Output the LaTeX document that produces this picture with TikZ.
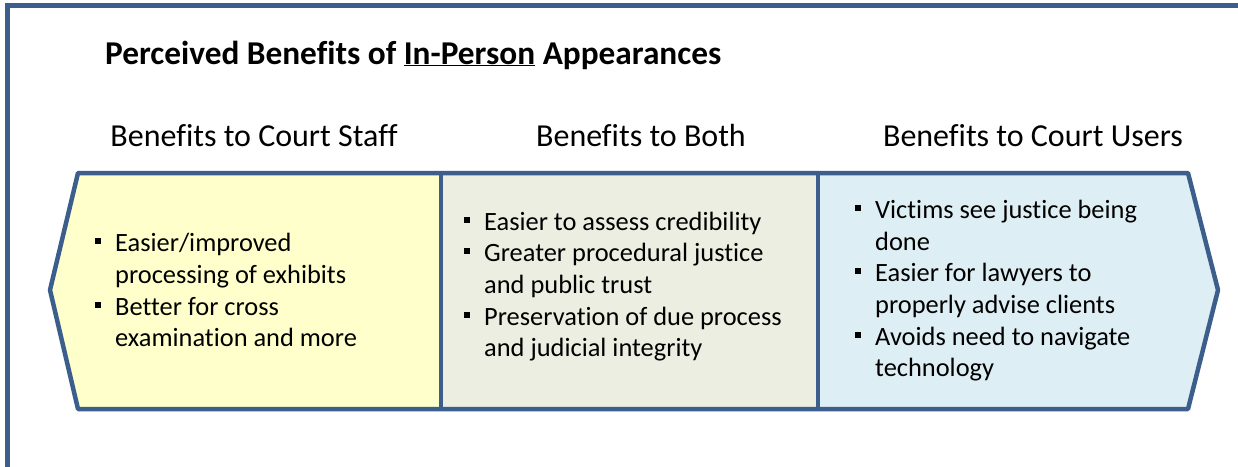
\documentclass[tikz,border=0pt]{standalone}
\usepackage{fontspec}
\setmainfont{Carlito}[Ligatures=NoCommon]
\definecolor{frameblue}{RGB}{59,94,140}
\definecolor{staffyellow}{RGB}{255,255,204}
\definecolor{bothgreen}{RGB}{235,238,224}
\definecolor{userblue}{RGB}{221,238,244}
\newcommand{\bitem}[1]{{\hangindent=20pt\hangafter=1\noindent\makebox[20pt][l]{\raisebox{7.5pt}{\rule{6pt}{6pt}}}#1\par}}
\newcommand{\blist}[1]{\vtop{\hsize=400pt\parskip=0pt\parindent=0pt\raggedright #1}}
\tikzset{
  panel/.style={draw=frameblue, line width=4.5pt, line join=round},
  header/.style={font=\fontsize{32}{36}\selectfont, inner sep=0pt, anchor=base},
  bullets/.style={font=\fontsize{26.4}{31.7}\selectfont, inner sep=0pt, anchor=base west},
}
\begin{document}
\begin{tikzpicture}[x=1pt,y=-1pt]
\useasboundingbox (0,0) rectangle (1238,466);
\clip (0,0) rectangle (1238,466);
\fill[white] (0,0) rectangle (1238,466);
\draw[frameblue, line width=5pt] (7.5,480) -- (7.5,5.5) -- (1250,5.5);
% panels
\fill[staffyellow] (50,290) -- (78,173) -- (441,173) -- (441,409) -- (78,409) -- cycle;
\fill[bothgreen] (441,173) rectangle (818,409);
\fill[userblue] (818,173) -- (1188,173) -- (1218,290) -- (1188,409) -- (818,409) -- cycle;
\draw[panel] (50,290) -- (78,173) -- (1188,173) -- (1218,290) -- (1188,409) -- (78,409) -- cycle;
\draw[panel] (441,173) -- (441,409);
\draw[panel] (818,173) -- (818,409);
% title
\node[anchor=base west, inner sep=0pt, font=\fontsize{33.3}{38}\selectfont\bfseries] (title) at (105,64) {Perceived Benefits of \underline{In-Person} Appearances};
% headers
\node[header] (h1) at (254,146.5) {Benefits to Court Staff};
\node[header] (h2) at (641,146.5) {Benefits to Both};
\node[header] (h3) at (1033,146.5) {Benefits to Court Users};
% bullets
\node[bullets] (b1) at (95,251.7) {\blist{\bitem{Easier/improved\newline processing of exhibits}\bitem{Better for cross\newline examination and more}}};
\node[bullets] (b2) at (464,230) {\blist{\bitem{Easier to assess credibility}\bitem{Greater procedural justice\newline and public trust}\bitem{Preservation of due process\newline and judicial integrity}}};
\node[bullets] (b3) at (855,218.3) {\blist{\bitem{Victims see justice being\newline done}\bitem{Easier for lawyers to\newline properly advise clients}\bitem{Avoids need to navigate\newline technology}}};
\end{tikzpicture}
\end{document}
